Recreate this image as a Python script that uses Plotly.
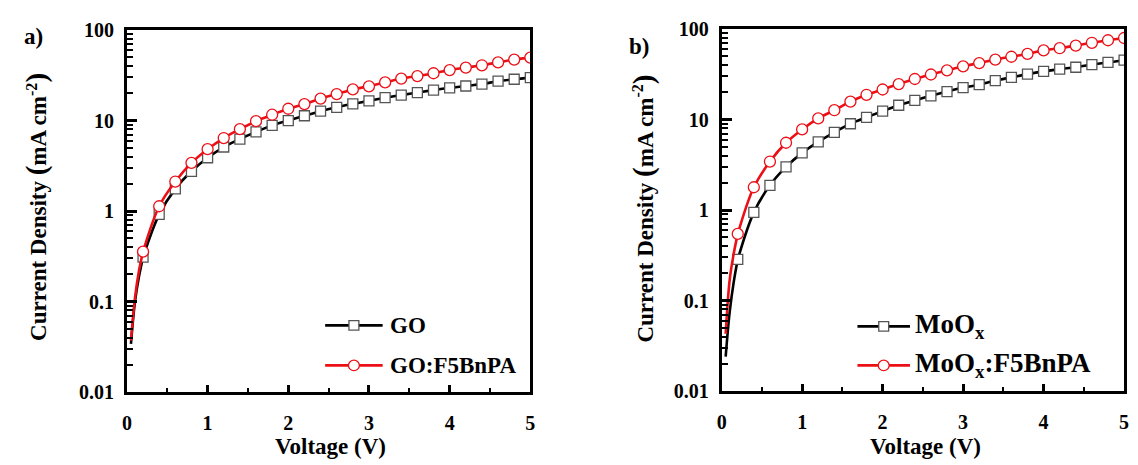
import plotly.graph_objects as go

# ---------------- data ----------------
V = [0.2, 0.4, 0.6, 0.8, 1.0, 1.2, 1.4, 1.6, 1.8, 2.0, 2.2, 2.4, 2.6, 2.8, 3.0,
     3.2, 3.4, 3.6, 3.8, 4.0, 4.2, 4.4, 4.6, 4.8, 5.0]
V_low = [0.05, 0.1, 0.15, 0.2]

GO = [0.31, 0.92, 1.76, 2.75, 3.88, 5.1, 6.25, 7.5, 8.85, 10.0, 11.3, 12.7, 14.0,
      15.3, 16.5, 17.9, 19.1, 20.4, 21.7, 23.0, 24.1, 25.3, 27.2, 28.6, 29.8]
GO_F5 = [0.356, 1.13, 2.12, 3.41, 4.83, 6.41, 8.04, 9.84, 11.6, 13.5, 15.2, 17.5,
         19.6, 22.1, 23.9, 26.4, 29.1, 31.0, 33.3, 36.1, 38.5, 40.8, 43.9, 47.2, 49.6]
GO_low = [0.034, 0.10, 0.19, 0.31]
GO_F5_low = [0.037, 0.11, 0.22, 0.356]

MoOx = [0.286, 0.944, 1.88, 3.0, 4.29, 5.68, 7.24, 9.0, 10.6, 12.4, 14.4, 16.3,
        18.3, 20.4, 22.6, 24.3, 27.0, 29.3, 31.8, 34.1, 36.1, 37.9, 40.5, 42.8, 45.3]
MoOx_F5 = [0.546, 1.79, 3.44, 5.55, 7.79, 10.3, 12.7, 15.8, 18.8, 21.5, 24.7, 28.1,
           31.5, 35.0, 38.8, 42.1, 46.0, 49.5, 53.2, 58.2, 61.5, 65.7, 70.6, 75.3, 79.7]
MoOx_low = [0.024, 0.075, 0.16, 0.286]
MoOx_F5_low = [0.043, 0.17, 0.33, 0.546]

y_tickvals = [0.01, 0.1, 1, 10, 100]
y_ticktext = ["0.01", "0.1", "1", "10", "100"]
x_tickvals = [0, 1, 2, 3, 4, 5]

names_a = ["GO", "GO:F5BnPA"]
names_b = ["MoO<sub>x</sub>", "MoO<sub>x</sub>:F5BnPA"]

# ---------------- style ----------------
FONT = "Liberation Serif"
BLACK = "#000000"
RED = "#ec0f16"
GRAYEDGE = "#555555"
W, H = 1138, 465

fig = go.Figure()

def add_pair(xa, ya, low_y, main_y, color, symbol, edge, name, msize):
    fig.add_trace(go.Scatter(
        x=V_low, y=low_y, xaxis=xa, yaxis=ya, mode="lines",
        line=dict(color=color, width=2.6, shape="spline"),
        showlegend=False, hoverinfo="skip"))
    fig.add_trace(go.Scatter(
        x=V, y=main_y, xaxis=xa, yaxis=ya, mode="lines+markers", name=name,
        line=dict(color=color, width=2.6, shape="spline"),
        marker=dict(symbol=symbol, size=msize, color="white",
                    line=dict(color=edge, width=1.3)),
        showlegend=False))

add_pair("x", "y", GO_low, GO, BLACK, "square", GRAYEDGE, names_a[0], 10)
add_pair("x", "y", GO_F5_low, GO_F5, RED, "circle", RED, names_a[1], 11)
add_pair("x2", "y2", MoOx_low, MoOx, BLACK, "square", GRAYEDGE, names_b[0], 10)
add_pair("x2", "y2", MoOx_F5_low, MoOx_F5, RED, "circle", RED, names_b[1], 11)

minor_y = [m * 10.0 ** e for e in (-2, -1, 0, 1) for m in range(2, 10)]

tickfont = dict(family=FONT, size=20, color="black", weight="bold")

def xaxis_style(domain, anchor):
    return dict(domain=domain, anchor=anchor, range=[0, 5],
                tickvals=x_tickvals, ticks="inside", ticklen=7, tickwidth=2.5,
                tickcolor="black",
                minor=dict(ticks="inside", ticklen=4, tickwidth=2, dtick=0.5,
                           tick0=0, tickcolor="black"),
                showline=True, linewidth=3, linecolor="black", mirror=True,
                showgrid=False, zeroline=False, tickfont=tickfont,
                ticklabelstandoff=11)

def yaxis_style(domain, anchor):
    return dict(domain=domain, anchor=anchor, type="log", range=[-2, 2],
                tickvals=y_tickvals, ticktext=y_ticktext,
                ticks="inside", ticklen=10, tickwidth=2.5, tickcolor="black",
                minor=dict(ticks="inside", ticklen=6, tickwidth=2,
                           tickvals=minor_y, tickcolor="black"),
                showline=True, linewidth=3, linecolor="black", mirror=True,
                showgrid=False, zeroline=False, tickfont=tickfont,
                ticklabelstandoff=6)

fig.update_layout(
    width=W, height=H,
    margin=dict(l=0, r=0, t=0, b=0),
    paper_bgcolor="white", plot_bgcolor="white",
    showlegend=False,
    xaxis=xaxis_style([123 / W, 530 / W], "y"),
    yaxis=yaxis_style([1 - 400 / H, 1 - 20 / H], "x"),
    xaxis2=xaxis_style([723 / W, 1129 / W], "y2"),
    yaxis2=yaxis_style([1 - 399 / H, 1 - 19 / H], "x2"),
)

# ---------------- legends (drawn as keys in paper space) ----------------
shapes = []
annotations = []

def legend_key(x0, x1, yc, color, kind, edge, size, label, fsize, text_x):
    yp = 1 - yc / H
    shapes.append(dict(type="line", xref="paper", yref="paper",
                       x0=x0 / W, x1=x1 / W, y0=yp, y1=yp,
                       line=dict(color=color, width=2.6)))
    xc = (x0 + x1) / 2
    h = size / 2
    shapes.append(dict(type="rect" if kind == "square" else "circle",
                       xref="paper", yref="paper",
                       x0=(xc - h) / W, x1=(xc + h) / W,
                       y0=1 - (yc + h) / H, y1=1 - (yc - h) / H,
                       fillcolor="white", line=dict(color=edge, width=1.3)))
    annotations.append(dict(text=label, x=text_x / W, y=yp, xanchor="left",
                            yanchor="middle",
                            font=dict(family=FONT, size=fsize, color="black",
                                      weight="bold")))

legend_key(323, 381, 330, BLACK, "square", GRAYEDGE, 10, names_a[0], 23, 386)
legend_key(323, 381, 372, RED, "circle", RED, 11, names_a[1], 23, 386)
legend_key(860, 913, 331, BLACK, "square", GRAYEDGE, 10, names_b[0], 27, 916)
legend_key(860, 913, 372, RED, "circle", RED, 11, names_b[1], 27, 916)

ann_font = dict(family=FONT, size=23, color="black", weight="bold")
ytitle = ('Current Density <span style="font-size:29px">(</span>mA cm<sup>-2</sup>'
          '<span style="font-size:29px">)</span>')
for a in [
    dict(text="a)", x=29 / W, y=1 - 27 / H),
    dict(text="b)", x=640 / W, y=1 - 37 / H),
    dict(text="Voltage (V)", x=328 / W, y=1 - 457 / H),
    dict(text="Voltage (V)", x=929 / W, y=1 - 457 / H),
    dict(text=ytitle, x=32 / W, y=1 - 206 / H, textangle=-90),
    dict(text=ytitle, x=644 / W, y=1 - 207 / H, textangle=-90),
]:
    a.update(xanchor="center", yanchor="middle", font=ann_font)
    annotations.append(a)

for a in annotations:
    a.update(xref="paper", yref="paper", showarrow=False)

fig.update_layout(annotations=annotations, shapes=shapes)

fig.write_html("out.html")
